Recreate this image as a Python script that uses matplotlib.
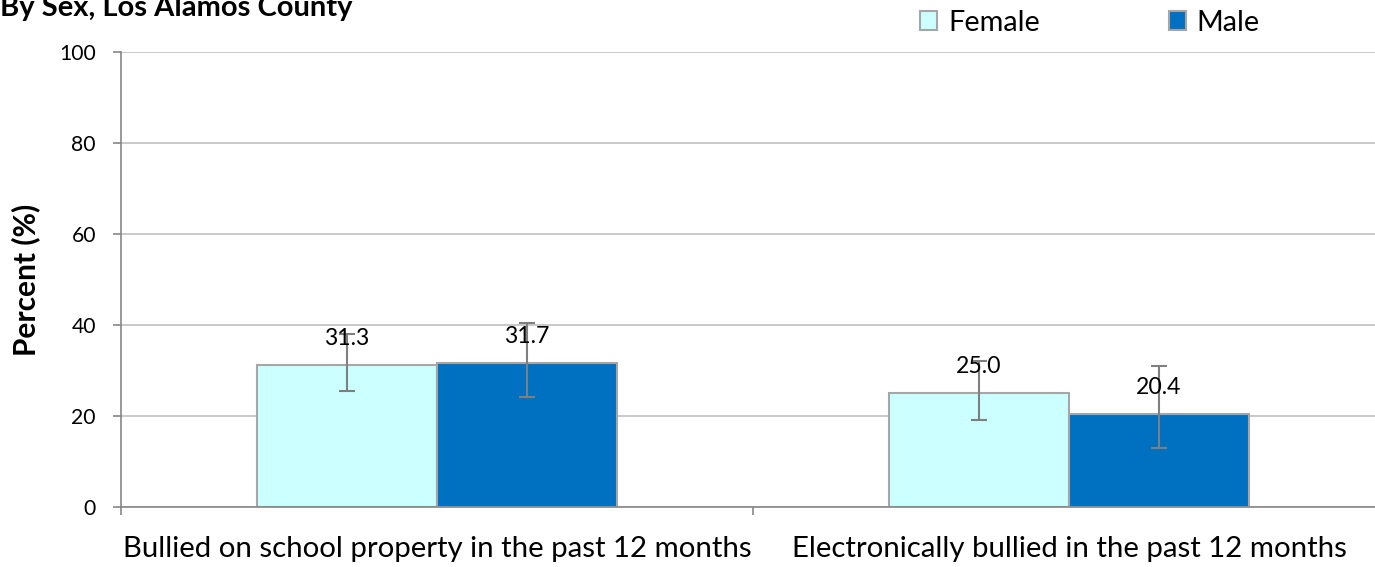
import numpy as np
import matplotlib
matplotlib.use("Agg")
import matplotlib.pyplot as plt
from matplotlib.patches import Patch

# data
categories = ["Bullied on school property in the past 12 months",
              "Electronically bullied in the past 12 months"]
female = [31.3, 25.0]
male = [31.7, 20.4]
female_lo = [25.5, 19.1]
female_hi = [38.0, 32.1]
male_lo = [24.2, 13.0]
male_hi = [40.4, 31.0]
yticks = [0, 20, 40, 60, 80, 100]

plt.rcParams['font.family'] = ['Lato', 'DejaVu Sans']

fig = plt.figure(figsize=(13.75, 5.67), dpi=100)
ax = fig.add_axes([121 / 1375, 60 / 567, 1264 / 1375, 455 / 567])

x = np.arange(len(categories)) + 0.5
w = 0.285
grey_edge = '#A6A6A6'

fem_err = [np.array(female) - np.array(female_lo), np.array(female_hi) - np.array(female)]
male_err = [np.array(male) - np.array(male_lo), np.array(male_hi) - np.array(male)]

ax.bar(x - w / 2, female, w, color='#CCFFFF', edgecolor=grey_edge, linewidth=1.5, zorder=2)
ax.bar(x + w / 2, male, w, color='#0070C0', edgecolor=grey_edge, linewidth=1.5, zorder=2)
ax.errorbar(x - w / 2, female, yerr=fem_err, fmt='none', ecolor='#7F7F7F',
            elinewidth=1.5, capsize=6, capthick=1.5, zorder=3)
ax.errorbar(x + w / 2, male, yerr=male_err, fmt='none', ecolor='#7F7F7F',
            elinewidth=1.5, capsize=6, capthick=1.5, zorder=3)

for xi, v in zip(x - w / 2, female):
    ax.annotate(f"{v:.1f}", (xi, v), xytext=(0, 19), textcoords='offset points',
                ha='center', va='center', fontsize=16.6, zorder=4)
for xi, v in zip(x + w / 2, male):
    ax.annotate(f"{v:.1f}", (xi, v), xytext=(0, 19), textcoords='offset points',
                ha='center', va='center', fontsize=16.6, zorder=4)

ax.set_xlim(0, 2)
ax.set_ylim(0, 100)
ax.set_yticks(yticks)
ax.set_yticklabels([str(t) for t in yticks], fontsize=15.2)
ax.yaxis.grid(True, color='#C0C0C0', linewidth=1.2, zorder=0)
ax.set_axisbelow(True)

ax.set_xticks(x)
ax.set_xticklabels(categories, fontsize=21.2)
ax.set_xticks([0, 1, 2], minor=True)
ax.tick_params(axis='x', which='major', length=0, pad=21)
ax.tick_params(axis='x', which='minor', length=6, color='#868686', width=1.2)
ax.tick_params(axis='y', length=6, color='#868686', width=1.2, pad=12)

for side in ['top', 'right']:
    ax.spines[side].set_visible(False)
for side in ['left', 'bottom']:
    ax.spines[side].set_color('#868686')
    ax.spines[side].set_linewidth(1.2)

ax.set_ylabel("Percent (%)", fontsize=21.5, fontweight='bold', labelpad=14)

fig.text(0.0, 1 - 16 / 567, "By Sex, Los Alamos County", fontsize=21,
         fontweight='bold', ha='left', va='baseline')

handles = [Patch(facecolor='#CCFFFF', edgecolor=grey_edge, linewidth=1.5, label='Female'),
           Patch(facecolor='#0070C0', edgecolor=grey_edge, linewidth=1.5, label='Male')]
fig.legend(handles=handles, loc='center left', bbox_to_anchor=(920 / 1375, 1 - 23 / 567),
           ncol=2, frameon=False, fontsize=20.8, handlelength=0.59, handleheight=0.62,
           handletextpad=0.38, columnspacing=4.46, borderaxespad=0, borderpad=0)

fig.savefig("out.png", dpi=100)
